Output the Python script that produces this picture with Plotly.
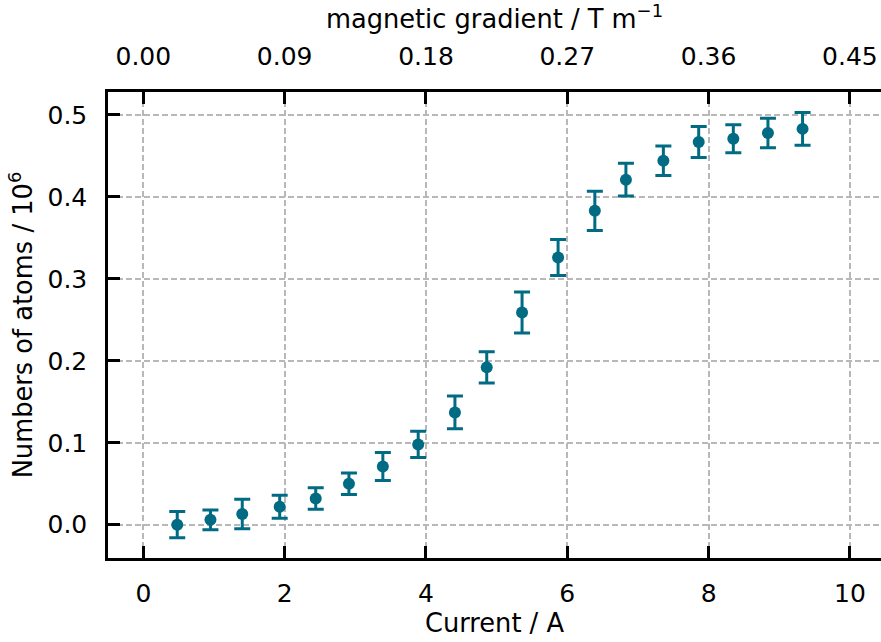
import plotly.graph_objects as go

# Measured atom numbers versus coil current
current_A = [0.48, 0.95, 1.40, 1.93, 2.44, 2.91, 3.39, 3.89, 4.41, 4.86, 5.36, 5.87, 6.39, 6.83, 7.36, 7.86, 8.35, 8.84, 9.33]
atoms_1e6 = [0.000, 0.006, 0.013, 0.022, 0.032, 0.050, 0.071, 0.098, 0.137, 0.192, 0.259, 0.326, 0.383, 0.421, 0.444, 0.467, 0.471, 0.478, 0.483]
atoms_err = [0.016, 0.012, 0.018, 0.014, 0.013, 0.013, 0.017, 0.016, 0.020, 0.019, 0.025, 0.022, 0.024, 0.020, 0.018, 0.019, 0.017, 0.018, 0.020]

# Coil calibration: gradient per ampere (T m^-1 A^-1)
GRADIENT_PER_AMP = 0.045
gradient_T_per_m = [c * GRADIENT_PER_AMP for c in current_A]

x_ticks = [0, 2, 4, 6, 8, 10]
grad_ticks = [0.00, 0.09, 0.18, 0.27, 0.36, 0.45]
y_ticks = [0.0, 0.1, 0.2, 0.3, 0.4, 0.5]

x_range = [-0.5, 10.44]
y_range = [-0.0406, 0.528]

color = "#006b82"
font_family = "DejaVu Sans"
tick_size = 25
title_size = 25.7

fig = go.Figure()
fig.add_trace(go.Scatter(
    x=current_A, y=atoms_1e6, mode="markers",
    marker=dict(color=color, size=12),
    error_y=dict(type="data", array=atoms_err, color=color, thickness=3, width=8),
    showlegend=False, xaxis="x", yaxis="y",
))
# Same data on the gradient axis (invisible), so the top axis is tied to it
fig.add_trace(go.Scatter(
    x=gradient_T_per_m, y=atoms_1e6, mode="markers",
    marker=dict(opacity=0), hoverinfo="skip",
    showlegend=False, xaxis="x2", yaxis="y",
))

axis_common = dict(
    showline=True, linecolor="black", linewidth=2.5,
    ticks="inside", ticklen=12, tickwidth=2.5, tickcolor="black",
    tickfont=dict(family=font_family, size=tick_size, color="black"),
    zeroline=False,
)
grid = dict(showgrid=True, gridcolor="#b8b8b8", gridwidth=1.5, griddash="6px,3px")

fig.update_layout(
    width=881, height=642,
    margin=dict(l=108, r=0, t=92, b=84),
    paper_bgcolor="white", plot_bgcolor="white",
    font=dict(family=font_family, color="black"),
    xaxis=dict(
        range=x_range, tickvals=x_ticks, **axis_common, **grid,
        ticklabelstandoff=11,
        title=dict(text="Current / A", font=dict(size=title_size), standoff=5),
    ),
    xaxis2=dict(
        overlaying="x", side="top",
        range=[r * GRADIENT_PER_AMP for r in x_range],
        tickvals=grad_ticks, tickformat=".2f", **axis_common,
        showgrid=False, ticklabelstandoff=14,
        title=dict(text="magnetic gradient / T m<sup>−1</sup>", font=dict(size=title_size), standoff=8),
    ),
    yaxis=dict(
        range=y_range, tickvals=y_ticks, tickformat=".1f", **axis_common, **grid,
        ticklabelstandoff=13,
        title=dict(text="Numbers of atoms / 10<sup>6</sup>", font=dict(size=title_size), standoff=8),
    ),
)

fig.write_html("out.html")
